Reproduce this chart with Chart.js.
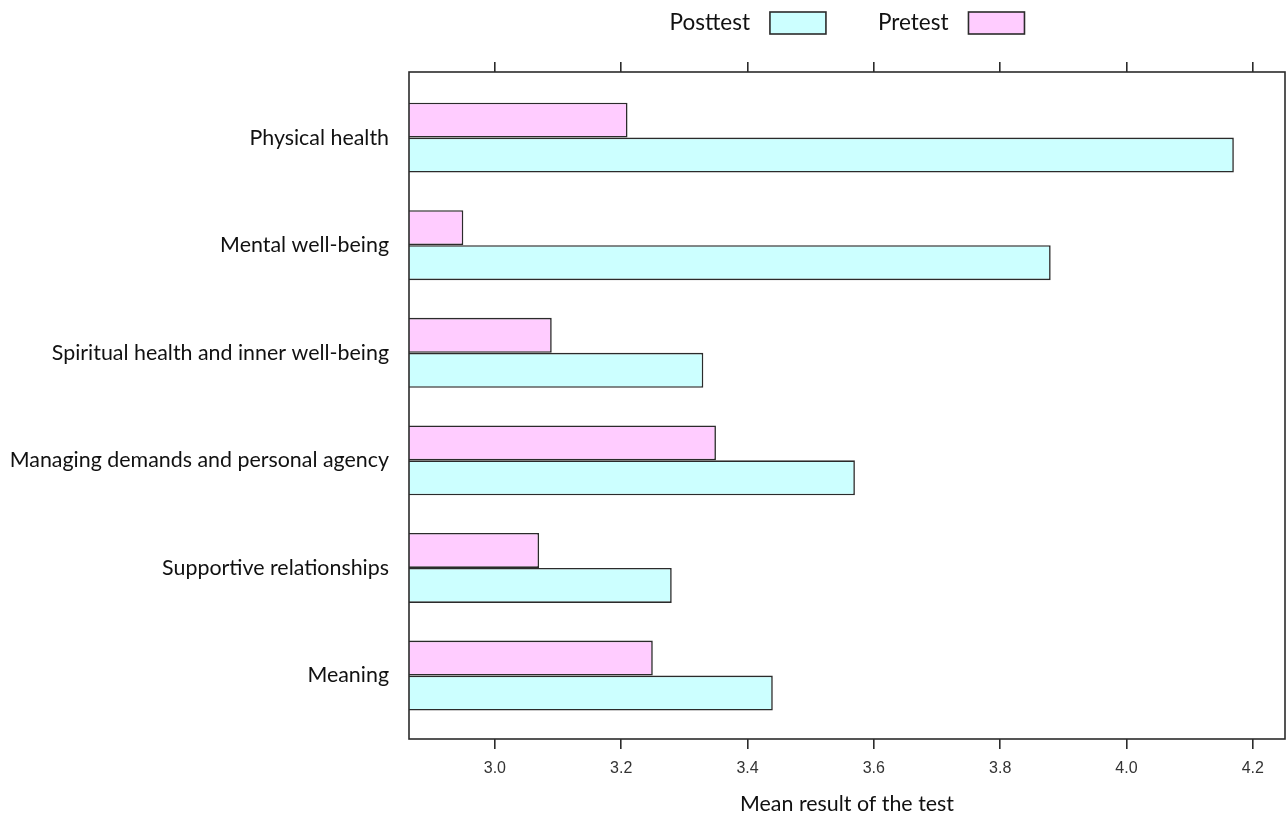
<!DOCTYPE html>
<html lang="en">
<head>
<meta charset="UTF-8">
<title>Mean result of the test</title>
<script src="https://cdn.jsdelivr.net/npm/chart.js"></script>
<style>
  html, body { margin: 0; padding: 0; background: #ffffff; }
</style>
</head>
<body>
<canvas id="testChart" width="1287" height="819"></canvas>
<script>
// categories, top to bottom
const categories = [
  'Physical health',
  'Mental well-being',
  'Spiritual health and inner well-being',
  'Managing demands and personal agency',
  'Supportive relationships',
  'Meaning'
];
const pretest  = [3.21, 2.95, 3.09, 3.35, 3.07, 3.25];
const posttest = [4.17, 3.88, 3.33, 3.57, 3.28, 3.44];
const xTicks = [3.0, 3.2, 3.4, 3.6, 3.8, 4.0, 4.2];

const X_MIN = 2.864, X_MAX = 4.251;
const LINE = '#2b2b2b';
const labelFont = { family: 'Lato', size: 21.4 };
const legendFont = { family: 'Lato', size: 22.5 };

// legend drawn as "text [box]" pairs, centred over the plot area
const boxLegend = {
  id: 'boxLegend',
  afterDraw(chart) {
    const ctx = chart.ctx;
    const area = chart.chartArea;
    const items = chart.data.datasets.slice().reverse();
    const boxW = 56, boxH = 22, textGap = 20, itemGap = 52, cy = 23;
    ctx.save();
    ctx.font = legendFont.size + 'px ' + legendFont.family;
    const widths = items.map(d => ctx.measureText(d.label).width);
    let total = 0;
    widths.forEach((w, i) => { total += w + textGap + boxW + (i ? itemGap : 0); });
    let x = (area.left + area.right) / 2 - total / 2;
    ctx.textBaseline = 'middle';
    items.forEach((d, i) => {
      if (i) x += itemGap;
      ctx.fillStyle = '#111';
      ctx.fillText(d.label, x, cy);
      x += widths[i] + textGap;
      ctx.fillStyle = d.backgroundColor;
      ctx.fillRect(x, cy - boxH / 2, boxW, boxH);
      ctx.lineWidth = 1.6;
      ctx.strokeStyle = LINE;
      ctx.strokeRect(x, cy - boxH / 2, boxW, boxH);
      x += boxW;
    });
    ctx.restore();
  }
};

// box around the plot area
const plotFrame = {
  id: 'plotFrame',
  afterDatasetsDraw(chart) {
    const { ctx, chartArea: a } = chart;
    ctx.save();
    ctx.lineWidth = 1.6;
    ctx.strokeStyle = LINE;
    ctx.strokeRect(a.left, a.top, a.right - a.left, a.bottom - a.top);
    ctx.restore();
  }
};

const setXTicks = scale => { scale.ticks = xTicks.map(v => ({ value: v })); };

new Chart(document.getElementById('testChart'), {
  type: 'bar',
  data: {
    datasets: [
      {
        label: 'Pretest',
        data: pretest.map((v, i) => ({ x: v, y: i })),
        backgroundColor: '#FFCCFF',
        borderColor: LINE,
        borderWidth: 1.6,
        borderSkipped: false,
        categoryPercentage: 0.65,
        barPercentage: 1
      },
      {
        label: 'Posttest',
        data: posttest.map((v, i) => ({ x: v, y: i })),
        backgroundColor: '#CCFFFF',
        borderColor: LINE,
        borderWidth: 1.6,
        borderSkipped: false,
        categoryPercentage: 0.65,
        barPercentage: 1
      }
    ]
  },
  options: {
    indexAxis: 'y',
    responsive: false,
    animation: false,
    layout: { padding: { left: 0, right: 2, top: 0, bottom: 0 } },
    plugins: {
      legend: { display: false },
      tooltip: { enabled: false }
    },
    scales: {
      y: {
        type: 'linear',
        reverse: true,
        offset: false,
        bounds: 'data',
        grace: 0,
        min: -0.61,
        max: 5.59,
        afterBuildTicks: s => { s.ticks = categories.map((_, i) => ({ value: i })); },
        afterFit: s => { s.width = 409; },
        ticks: {
          callback: v => categories[v],
          font: labelFont,
          color: '#111',
          padding: 12
        },
        grid: { display: false },
        border: { display: false }
      },
      x: {
        type: 'linear',
        position: 'bottom',
        min: X_MIN,
        max: X_MAX,
        afterBuildTicks: setXTicks,
        afterFit: s => { s.height = 80; },
        ticks: {
          callback: v => v.toFixed(1),
          font: { family: 'Liberation Sans', size: 16 },
          color: '#333',
          padding: 10,
          maxRotation: 0
        },
        grid: { drawOnChartArea: false, drawTicks: true, tickLength: 10, color: LINE, lineWidth: 1.6 },
        border: { display: false },
        title: {
          display: true,
          text: 'Mean result of the test',
          font: labelFont,
          color: '#111',
          padding: { top: 0, bottom: 2 }
        }
      },
      xTop: {
        type: 'linear',
        position: 'top',
        min: X_MIN,
        max: X_MAX,
        afterBuildTicks: setXTicks,
        afterFit: s => { s.height = 72; },
        ticks: { display: false },
        grid: { drawOnChartArea: false, drawTicks: true, tickLength: 10, color: LINE, lineWidth: 1.6 },
        border: { display: false }
      }
    }
  },
  plugins: [boxLegend, plotFrame]
});
</script>
</body>
</html>
